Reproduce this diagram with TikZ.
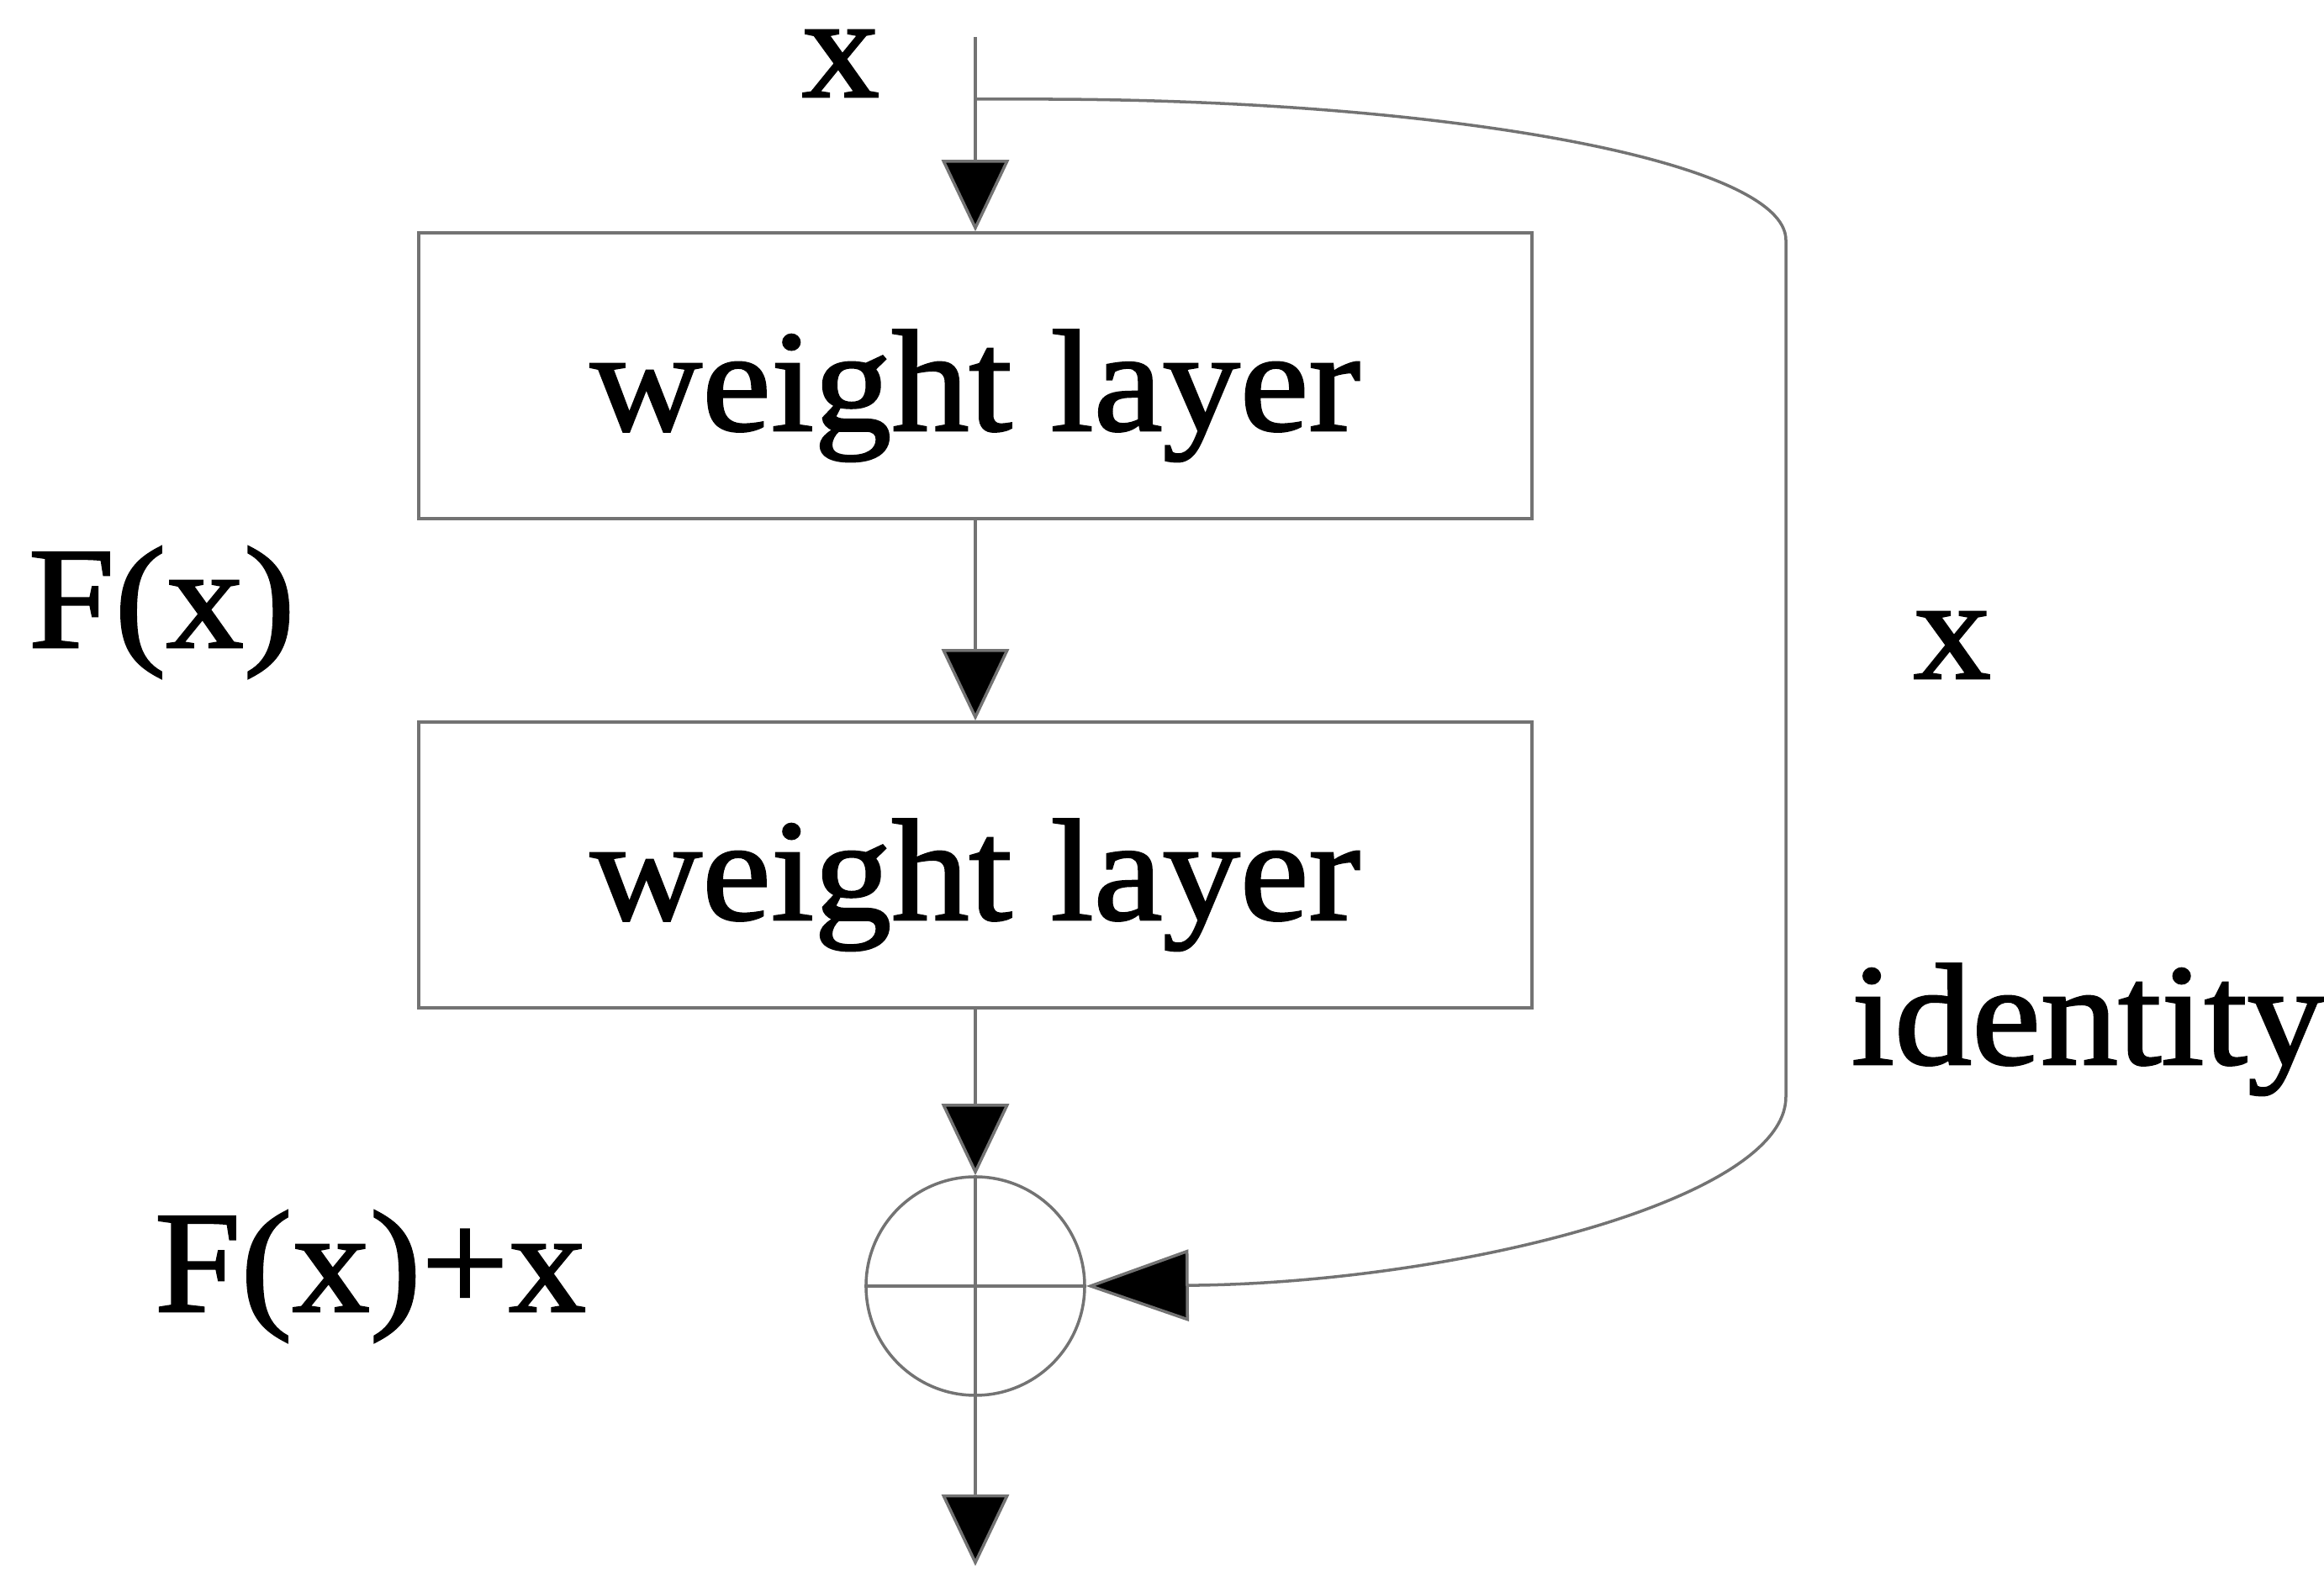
\documentclass[tikz,border=0pt]{standalone}
\usepackage{fontspec}
\setmainfont{Liberation Serif}[FakeStretch=1.07,FakeBold=1.5]
\usepackage{tikz}
\usetikzlibrary{arrows.meta,positioning}

\begin{document}
\begin{tikzpicture}[auto, node distance=5.82cm,
		line width=1pt, draw=black!55,
		layer node/.style={rectangle,draw=black!55,minimum width=13.24cm,minimum height=3.4cm,
			text height=1.72cm,text depth=0.42cm,font=\fontsize{49}{54}\selectfont},
		sum node/.style={circle,draw=black!55,minimum size=2.6cm,inner sep=0pt},
		label node/.style={anchor=base west,inner sep=0pt,font=\fontsize{49}{54}\selectfont},
		flow/.style={draw=black!55,-{Triangle[length=0.85cm,width=0.8cm,fill=black]}},
		skip/.style={draw=black!55,-{Triangle[length=1.22cm,width=0.85cm,fill=black]}}]
	
	\useasboundingbox (0,0) rectangle (27.64,18.88);
	
	\coordinate (in) at (11.6,18.44);
	\coordinate (split) at (11.6,17.70);
	\node[layer node] (wl1) at (11.6,14.41) {weight layer};
	\node[layer node] (wl2) [below of=wl1] {weight layer};
	\node[sum node] (sum) [below of=wl2, node distance=5.01cm] {};
	\coordinate (out) at (11.6,0.25);
	
	% labels
	\node[label node,text height=0.5em] (xin) at (9.52,17.73) {x};
	\node[label node] (fx) at (0.32,11.18) {F(x)};
	\node[label node] (xskip) at (22.74,10.81) {x};
	\node[label node] (ident) at (22.0,6.22) {identity};
	\node[label node] (fxx) at (1.82,3.28) {F(x)+x};
	
	% main path
	\path[flow] (in) -- (wl1.north);
	\path[flow] (wl1.south) -- (wl2.north);
	\path[flow] (wl2.south) -- (sum.north);
	\draw (sum.north) -- (sum.south);
	\draw (sum.west) -- (sum.east);
	\path[flow] (sum.south) -- (out);
	
	% identity shortcut
	\path[skip] (split) -- (12.34,17.70)
		arc[start angle=90,end angle=0,x radius=8.90cm,y radius=1.675cm]
		-- (21.24,5.83)
		.. controls (21.24,4.60) and (17.26,3.61) .. (sum.east);
			
\end{tikzpicture}
\end{document}
